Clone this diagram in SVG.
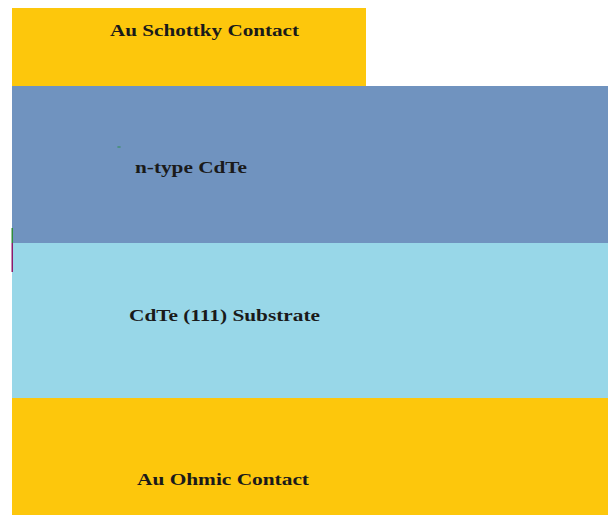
<svg xmlns="http://www.w3.org/2000/svg" width="608" height="515" viewBox="0 0 608 515">
  <style>
    .gold { fill: #fdc70c; }
    .ntype { fill: #7093bf; }
    .sub { fill: #98d7e8; }
    .lbl { font-family: "Liberation Serif", "Times New Roman", serif; font-weight: bold; font-size: 17px; fill: #1a1a1a; }
  </style>
  <rect width="608" height="515" fill="#ffffff"/>
  <!-- layer stack, top to bottom -->
  <g id="schottky">
    <rect class="gold" x="12" y="8" width="354" height="78"/>
    <text class="lbl" x="110" y="36" textLength="189" lengthAdjust="spacingAndGlyphs">Au Schottky Contact</text>
  </g>
  <g id="ntype">
    <rect class="ntype" x="12" y="86" width="596" height="157"/>
    <ellipse cx="119" cy="147" rx="2" ry="0.8" fill="#3f8f6a"/>
    <text class="lbl" x="135" y="173" textLength="112" lengthAdjust="spacingAndGlyphs">n-type CdTe</text>
  </g>
  <g id="substrate">
    <rect class="sub" x="12" y="243" width="596" height="155"/>
    <text class="lbl" x="129" y="321" textLength="191" lengthAdjust="spacingAndGlyphs">CdTe (111) Substrate</text>
  </g>
  <g id="ohmic">
    <rect class="gold" x="12" y="398" width="596" height="117"/>
    <text class="lbl" x="137" y="485" textLength="172" lengthAdjust="spacingAndGlyphs">Au Ohmic Contact</text>
  </g>
  <!-- thin edge marks at the left border -->
  <g id="edge-marks">
    <rect x="11.5" y="228" width="1.5" height="15" fill="#2e8b3a"/>
    <rect x="11.5" y="243" width="1.5" height="29" fill="#8b1a6b"/>
  </g>
</svg>
